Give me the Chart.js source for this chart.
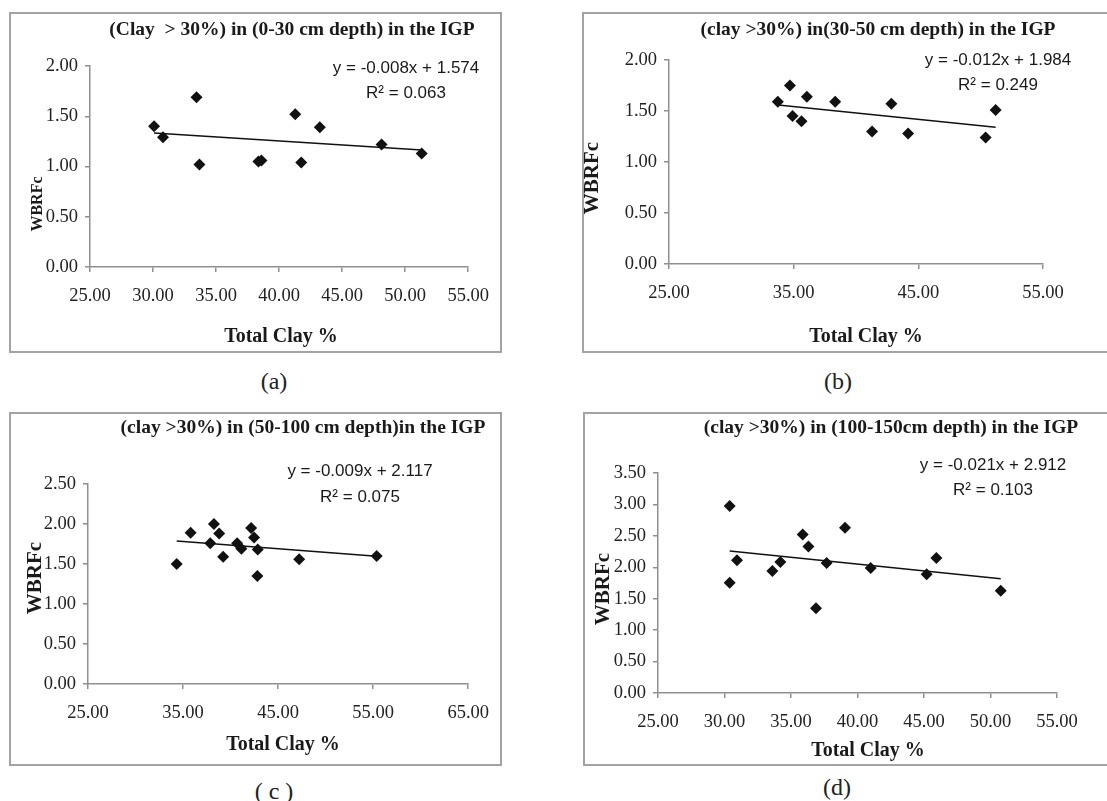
<!DOCTYPE html>
<html><head><meta charset="utf-8">
<script src="https://cdn.jsdelivr.net/npm/chart.js@4.4.1/dist/chart.umd.min.js"></script>
<style>
html,body{margin:0;padding:0;background:#fff;overflow:hidden;width:1107px;height:801px;}
canvas{position:absolute;}
.box{position:absolute;border:2px solid #a3a3a3;box-sizing:border-box;pointer-events:none;}
.lbl{position:absolute;font-family:"Liberation Serif",serif;font-size:24px;color:#222;transform:translate(-50%,-50%);white-space:pre;}
</style></head><body>
<script>
// ---- Data ----
const clayA = [30.08, 30.79, 33.45, 33.68, 38.36, 38.60, 41.28, 41.76, 43.23, 48.13, 51.31];
const wbrfA = [1.40, 1.29, 1.69, 1.02, 1.05, 1.06, 1.52, 1.04, 1.39, 1.22, 1.13];
const trendXA = [30.08, 51.31];
const trendYA = [1.334, 1.164];

const clayB = [33.73, 34.70, 34.91, 35.63, 36.06, 38.33, 41.29, 42.84, 44.18, 50.40, 51.20];
const wbrfB = [1.59, 1.75, 1.45, 1.40, 1.64, 1.59, 1.30, 1.57, 1.28, 1.24, 1.51];
const trendXB = [33.76, 51.20];
const trendYB = [1.559, 1.340];

const clayC = [34.33, 35.80, 37.86, 38.25, 38.80, 39.22, 40.69, 41.14, 42.16, 42.47, 42.86, 42.82, 47.22, 55.37];
const wbrfC = [1.50, 1.89, 1.76, 2.00, 1.88, 1.59, 1.76, 1.69, 1.95, 1.83, 1.68, 1.35, 1.56, 1.60];
const trendXC = [34.33, 55.37];
const trendYC = [1.789, 1.598];

const clayD = [30.39, 30.39, 30.94, 33.60, 34.20, 35.88, 36.31, 36.88, 37.68, 39.06, 40.99, 45.20, 45.93, 50.77];
const wbrfD = [2.975, 1.755, 2.113, 1.942, 2.086, 2.52, 2.33, 1.347, 2.07, 2.628, 1.99, 1.889, 2.149, 1.628];
const trendXD = [30.39, 50.77];
const trendYD = [2.261, 1.819];

const titles = [
  "(Clay  > 30%) in (0-30 cm depth) in the IGP",
  "(clay >30%) in(30-50 cm depth) in the IGP",
  "(clay >30%) in (50-100 cm depth)in the IGP",
  "(clay >30%) in (100-150cm depth) in the IGP"
];
const equations = ["y = -0.008x + 1.574", "y = -0.012x + 1.984", "y = -0.009x + 2.117", "y = -0.021x + 2.912"];
const rSquared = ["R\u00B2 = 0.063", "R\u00B2 = 0.249", "R\u00B2 = 0.075", "R\u00B2 = 0.103"];
const panelLabels = ["(a)", "(b)", "( c )", "(d)"];
const xAxisTitle = "Total Clay %";
const yAxisTitle = "WBRFc";
// axis ranges [min, max, step]
const xRanges = [[25, 55, 5], [25, 55, 10], [25, 65, 10], [25, 55, 5]];
const yRanges = [[0, 2, 0.5], [0, 2, 0.5], [0, 2.5, 0.5], [0, 3.5, 0.5]];

// ---- Layout (page coordinates) ----
const panels = [
  {box:[9,12,502,353], plot:[90,66,470,267], title:[292,30], eq:[406,68], r2:[406,93], xt:[281,337], yt:[38,204], ytSize:16, lab:[274,381],
   clay:clayA, wbrf:wbrfA, tx:trendXA, ty:trendYA},
  {box:[582,12,1109,353], plot:[669,60,1043,264], title:[878,30], eq:[998,60], r2:[998,85], xt:[866,337], yt:[593,178], ytSize:21, lab:[838,381],
   clay:clayB, wbrf:wbrfB, tx:trendXB, ty:trendYB},
  {box:[9,412,502,766], plot:[88,484,470,684], title:[303,428], eq:[360,471], r2:[360,497], xt:[283,745], yt:[36,578], ytSize:21, lab:[274,791],
   clay:clayC, wbrf:wbrfC, tx:trendXC, ty:trendYC},
  {box:[583,412,1109,766], plot:[658,473,1057,693], title:[891,428], eq:[993,465], r2:[993,490], xt:[868,751], yt:[604,589], ytSize:21, lab:[837,787],
   clay:clayD, wbrf:wbrfD, tx:trendXD, ty:trendYD}
];

const SERIF = '"Liberation Serif", "Times New Roman", serif';
const SANS = '"Liberation Sans", Arial, sans-serif';
const Y_W = 60, X_H = 40;

panels.forEach((p, i) => {
  const [bl, bt, br, bb] = p.box;
  const [pl, pt, pr, pb] = p.plot;
  const w = br - bl, h = bb - bt;
  const cv = document.createElement('canvas');
  cv.style.left = bl + 'px'; cv.style.top = bt + 'px';
  cv.style.width = w + 'px'; cv.style.height = h + 'px';
  cv.width = w; cv.height = h;
  document.body.appendChild(cv);
  const bx = document.createElement('div');
  bx.className = 'box';
  bx.style.left = bl + 'px'; bx.style.top = bt + 'px';
  bx.style.width = w + 'px'; bx.style.height = h + 'px';
  document.body.appendChild(bx);
  const lb = document.createElement('div');
  lb.className = 'lbl';
  lb.style.left = p.lab[0] + 'px'; lb.style.top = p.lab[1] + 'px';
  lb.textContent = panelLabels[i];
  document.body.appendChild(lb);

  const pts = p.clay.map((x, k) => ({x: x, y: p.wbrf[k]}));
  const trend = p.tx.map((x, k) => ({x: x, y: p.ty[k]}));

  const textPlugin = {
    id: 'texts' + i,
    afterDraw(chart) {
      const c = chart.ctx;
      c.save();
      c.fillStyle = '#1a1a1a';
      c.textAlign = 'center'; c.textBaseline = 'middle';
      c.font = 'bold 19.5px ' + SERIF;
      c.fillText(titles[i], p.title[0] - bl, p.title[1] - bt);
      c.font = 'bold 20px ' + SERIF;
      c.fillText(xAxisTitle, p.xt[0] - bl, p.xt[1] - bt);
      c.font = '17px ' + SANS;
      c.fillText(equations[i], p.eq[0] - bl, p.eq[1] - bt);
      c.fillText(rSquared[i], p.r2[0] - bl, p.r2[1] - bt);
      c.translate(p.yt[0] - bl, p.yt[1] - bt);
      c.rotate(-Math.PI / 2);
      c.font = 'bold ' + p.ytSize + 'px ' + SERIF;
      c.fillText(yAxisTitle, 0, 0);
      c.restore();
    }
  };

  const axisCommon = {
    grid: {display: true, drawOnChartArea: false, drawTicks: true, tickLength: 5, color: '#8f8f8f', lineWidth: 1.5},
    border: {display: true, color: '#8f8f8f', width: 1.5}
  };

  new Chart(cv, {
    type: 'scatter',
    data: {datasets: [
      {data: pts, pointStyle: 'rectRot', pointRadius: 6, backgroundColor: '#111', borderColor: '#111', borderWidth: 0, order: 1},
      {type: 'line', data: trend, showLine: true, borderColor: '#111', borderWidth: 1.5, pointRadius: 0, fill: false, order: 2}
    ]},
    options: {
      responsive: false, animation: false, devicePixelRatio: 1,
      layout: {padding: {left: (pl - bl) - Y_W, top: pt - bt, right: br - pr, bottom: (bb - pb) - X_H}},
      plugins: {legend: {display: false}, tooltip: {enabled: false}, title: {display: false}},
      scales: {
        x: Object.assign({}, axisCommon, {
          type: 'linear', min: xRanges[i][0], max: xRanges[i][1],
          ticks: {stepSize: xRanges[i][2], padding: 13, color: '#222', font: {family: SERIF, size: 18.5},
                  callback: v => Number(v).toFixed(2), maxRotation: 0, autoSkip: false},
          afterFit: s => { s.height = X_H; }
        }),
        y: Object.assign({}, axisCommon, {
          type: 'linear', min: yRanges[i][0], max: yRanges[i][1],
          ticks: {stepSize: yRanges[i][2], padding: 7, color: '#222', font: {family: SERIF, size: 18.5},
                  callback: v => Number(v).toFixed(2)},
          afterFit: s => { s.width = Y_W; }
        })
      }
    },
    plugins: [textPlugin]
  });
});
</script>
</body></html>
